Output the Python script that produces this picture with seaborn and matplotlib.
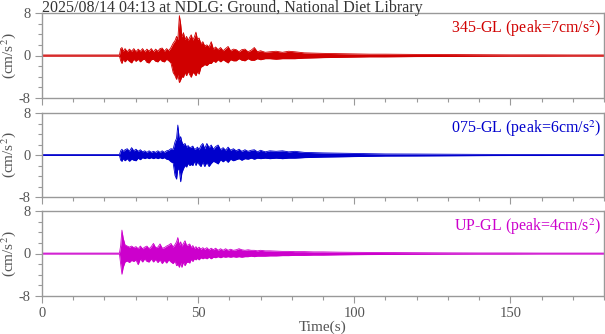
import numpy as np
import pandas as pd
import matplotlib
matplotlib.use("Agg")
import matplotlib.pyplot as plt
from matplotlib.ticker import MultipleLocator
import seaborn as sns

# ---- data (envelope of each trace) ----
times = [0, 24.8, 25.2, 25.6, 26.0, 26.6, 27.3, 28.0, 28.7, 29.4,
         30.1, 30.8, 31.5, 32.2, 32.9, 33.6, 34.3, 35.0, 35.7, 36.4,
         37.1, 37.8, 38.5, 39.2, 39.9, 40.6, 41.3, 42.0, 42.6, 43.1,
         43.5, 44.0, 44.4, 44.8, 45.3, 45.8, 46.3, 46.8, 47.3, 47.8,
         48.3, 48.8, 49.3, 49.8, 50.3, 50.9, 51.5, 52.1, 52.8, 53.5,
         54.2, 54.9, 55.6, 56.4, 57.2, 58.0, 58.8, 59.6, 60.4, 61.3,
         62.2, 63.1, 64.0, 65.0, 66.0, 67.0, 68.0, 69.0, 70.0, 71.5,
         73, 75, 77, 79, 81, 84, 87, 90, 95, 100,
         105, 110, 120, 130, 140, 150, 160, 170, 180]

ns_upper = [0.1, 0.1, 1.3, 1.5, 0.8, 1.3, 0.7, 1.2, 0.8, 1.3,
            0.7, 1.2, 0.8, 1.3, 0.7, 1.2, 0.8, 1.3, 0.7, 1.2,
            0.8, 1.3, 1.4, 0.8, 1.3, 0.9, 1.5, 2.3, 2.8, 3.6,
            3.0, 7.5, 6.0, 3.5, 4.3, 3.0, 3.6, 2.8, 3.4, 3.9,
            2.9, 3.5, 4.4, 3.0, 3.3, 2.2, 2.6, 1.8, 2.0, 1.6,
            2.6, 1.2, 1.6, 1.1, 1.5, 0.9, 1.3, 1.7, 0.9, 1.2,
            1.1, 0.7, 1.1, 1.2, 0.7, 1.0, 1.5, 0.7, 0.9, 0.6,
            0.7, 0.8, 0.6, 0.8, 0.7, 0.5, 0.45, 0.4, 0.35, 0.3,
            0.25, 0.25, 0.2, 0.18, 0.15, 0.12, 0.12, 0.1, 0.1]
ns_lower = [-0.1, -0.1, -1.0, -1.5, -0.7, -1.2, -0.7, -1.1, -1.4, -0.7,
            -1.1, -0.7, -1.2, -0.8, -0.7, -1.3, -1.4, -0.8, -0.7, -1.1,
            -1.2, -0.7, -1.1, -1.2, -0.7, -1.0, -1.4, -3.2, -3.8, -4.5,
            -3.6, -5.1, -4.6, -4.0, -4.1, -3.2, -3.8, -3.0, -3.6, -4.1,
            -3.2, -3.4, -3.8, -3.0, -3.5, -2.2, -2.0, -1.7, -1.9, -1.5,
            -1.5, -1.0, -1.3, -0.8, -1.2, -0.8, -1.1, -1.4, -0.8, -1.0,
            -1.0, -0.6, -0.9, -1.0, -0.6, -0.9, -0.9, -0.6, -0.8, -0.6,
            -0.6, -0.7, -0.6, -0.6, -0.6, -0.5, -0.45, -0.4, -0.35, -0.3,
            -0.25, -0.25, -0.2, -0.18, -0.15, -0.12, -0.12, -0.1, -0.1]

ew_upper = [0.08, 0.08, 0.8, 1.1, 0.7, 1.0, 1.2, 0.7, 1.4, 0.8,
            1.1, 0.7, 1.0, 0.6, 0.8, 0.5, 0.8, 0.5, 0.7, 0.5,
            0.8, 0.5, 0.8, 0.5, 0.8, 0.9, 1.2, 1.1, 2.5, 3.2,
            5.7, 2.8, 3.5, 2.5, 1.9, 2.2, 1.5, 1.8, 1.4, 1.5,
            1.7, 1.1, 1.2, 1.5, 1.0, 1.8, 2.2, 1.2, 2.2, 1.4,
            1.9, 1.1, 1.6, 1.9, 1.0, 1.4, 0.9, 1.5, 0.9, 1.2,
            0.8, 1.1, 0.7, 1.0, 0.7, 0.9, 1.0, 0.6, 0.9, 0.6,
            0.8, 0.7, 0.8, 0.6, 0.7, 0.5, 0.45, 0.4, 0.35, 0.3,
            0.25, 0.2, 0.18, 0.15, 0.12, 0.1, 0.1, 0.08, 0.08]
ew_lower = [-0.08, -0.08, -1.0, -1.2, -0.7, -1.1, -0.7, -1.2, -0.8, -1.0,
            -1.1, -0.6, -0.9, -0.5, -0.7, -0.5, -0.7, -0.5, -0.7, -0.5,
            -0.7, -0.5, -0.7, -0.5, -0.8, -0.9, -1.3, -1.5, -3.9, -4.6,
            -2.5, -3.0, -5.1, -3.4, -2.6, -2.0, -2.3, -1.6, -2.0, -1.8,
            -2.0, -1.2, -2.0, -1.3, -1.8, -2.2, -1.3, -2.2, -1.4, -2.2,
            -1.6, -1.2, -1.4, -1.7, -0.9, -1.3, -0.9, -1.4, -0.8, -1.1,
            -0.9, -0.7, -1.0, -0.7, -0.8, -0.6, -0.8, -0.6, -0.7, -0.6,
            -0.7, -0.6, -0.7, -0.6, -0.6, -0.5, -0.45, -0.4, -0.35, -0.3,
            -0.25, -0.2, -0.18, -0.15, -0.12, -0.1, -0.1, -0.08, -0.08]

ud_upper = [0.08, 0.08, 1.5, 4.4, 2.9, 1.6, 1.4, 1.2, 1.4, 1.1,
            1.3, 0.9, 1.4, 0.9, 1.2, 1.4, 0.9, 1.3, 1.9, 1.1,
            1.2, 1.8, 1.0, 1.1, 1.4, 1.6, 1.9, 1.2, 1.7, 2.2,
            3.0, 1.5, 2.2, 1.4, 1.9, 2.4, 1.5, 1.6, 1.8, 1.1,
            1.5, 0.9, 1.3, 0.9, 1.2, 0.8, 1.1, 0.8, 1.1, 0.7,
            1.0, 0.7, 1.0, 0.6, 0.9, 0.6, 0.9, 0.6, 0.8, 0.6,
            0.7, 0.9, 0.7, 0.6, 0.7, 0.6, 0.6, 0.5, 0.6, 0.5,
            0.5, 0.45, 0.4, 0.4, 0.35, 0.35, 0.3, 0.3, 0.25, 0.22,
            0.2, 0.18, 0.15, 0.12, 0.1, 0.1, 0.08, 0.08, 0.08]
ud_lower = [-0.08, -0.08, -2.0, -3.9, -2.6, -1.6, -1.4, -1.7, -1.3, -1.5,
            -1.2, -2.1, -1.0, -1.6, -1.0, -1.5, -1.6, -1.0, -1.6, -1.1,
            -1.7, -1.2, -1.9, -1.3, -1.8, -1.2, -1.6, -1.9, -1.4, -2.3,
            -2.0, -2.6, -1.7, -2.6, -1.6, -2.3, -1.7, -1.6, -1.8, -1.1,
            -1.5, -1.0, -1.2, -0.9, -1.2, -0.8, -1.0, -0.8, -1.0, -0.7,
            -1.0, -0.7, -0.8, -0.6, -0.8, -0.6, -0.7, -0.6, -0.7, -0.6,
            -0.7, -0.6, -0.7, -0.6, -0.6, -0.5, -0.6, -0.5, -0.5, -0.5,
            -0.45, -0.45, -0.4, -0.4, -0.35, -0.35, -0.3, -0.3, -0.25, -0.22,
            -0.2, -0.18, -0.15, -0.12, -0.1, -0.1, -0.08, -0.08, -0.08]

components = ["345-GL", "075-GL", "UP-GL"]
peaks = [7, 6, 4]
title = "2025/08/14 04:13 at NDLG: Ground, National Diet Library"
x_ticks = [0, 50, 100, 150]
y_ticks = [-8, 0, 8]

# ---- style ----
sns.set_theme(style="ticks")
plt.rcParams["font.family"] = ["Liberation Serif", "DejaVu Serif"]
plt.rcParams["mathtext.fontset"] = "stix"

colors = ["#d00000", "#0000cc", "#cc00cc"]
grey = "#555555"
spine_c = "#999999"

fig = plt.figure(figsize=(6.05, 3.34), dpi=100)
left, width = 42 / 605, 562 / 605
boxes = [(13, 98), (113, 197), (211, 296)]

uppers = [ns_upper, ew_upper, ud_upper]
lowers = [ns_lower, ew_lower, ud_lower]

for i, (top, bot) in enumerate(boxes):
    ax = fig.add_axes([left, 1 - bot / 334, width, (bot - top) / 334])
    df = pd.DataFrame({"t": times, "up": uppers[i], "lo": lowers[i]})
    c = colors[i]
    sns.lineplot(data=df, x="t", y="up", ax=ax, color=c, lw=0.6)
    sns.lineplot(data=df, x="t", y="lo", ax=ax, color=c, lw=0.6)
    ax.fill_between(df["t"], df["lo"], df["up"], color=c, lw=0)
    ax.set_xlim(0, 180)
    ax.set_ylim(-8, 8)
    ax.set_yticks(y_ticks)
    ax.set_yticklabels(["-8", "0", "8"])
    ax.yaxis.set_minor_locator(MultipleLocator(2))
    ax.set_xticks(x_ticks)
    ax.xaxis.set_minor_locator(MultipleLocator(10))
    ax.tick_params(which="major", direction="out", length=5, width=0.8,
                   colors=spine_c, labelcolor=grey, labelsize=10.5, pad=3)
    ax.tick_params(which="minor", direction="out", length=3, width=0.8,
                   colors=spine_c)
    for s in ax.spines.values():
        s.set_color(spine_c)
        s.set_linewidth(1.0)
        s.set_visible(True)
    ax.set_ylabel("(cm/s$^{2}$)", color=grey, fontsize=11)
    ax.yaxis.set_label_coords(-0.043, 0.5)
    ax.text(0.995, 0.94, f"{components[i]} (peak={peaks[i]}cm/s$^{{2}}$)",
            transform=ax.transAxes, ha="right", va="top", color=c, fontsize=11.5)
    if i < 2:
        ax.set_xticklabels([])
        ax.set_xlabel("")
    else:
        ax.set_xlabel("Time(s)", color=grey, fontsize=11, labelpad=0)

fig.text(42 / 605, 1 - 0.5 / 334, title, ha="left", va="top",
         color="#333333", fontsize=11.5)

fig.savefig("out.png", dpi=100)
